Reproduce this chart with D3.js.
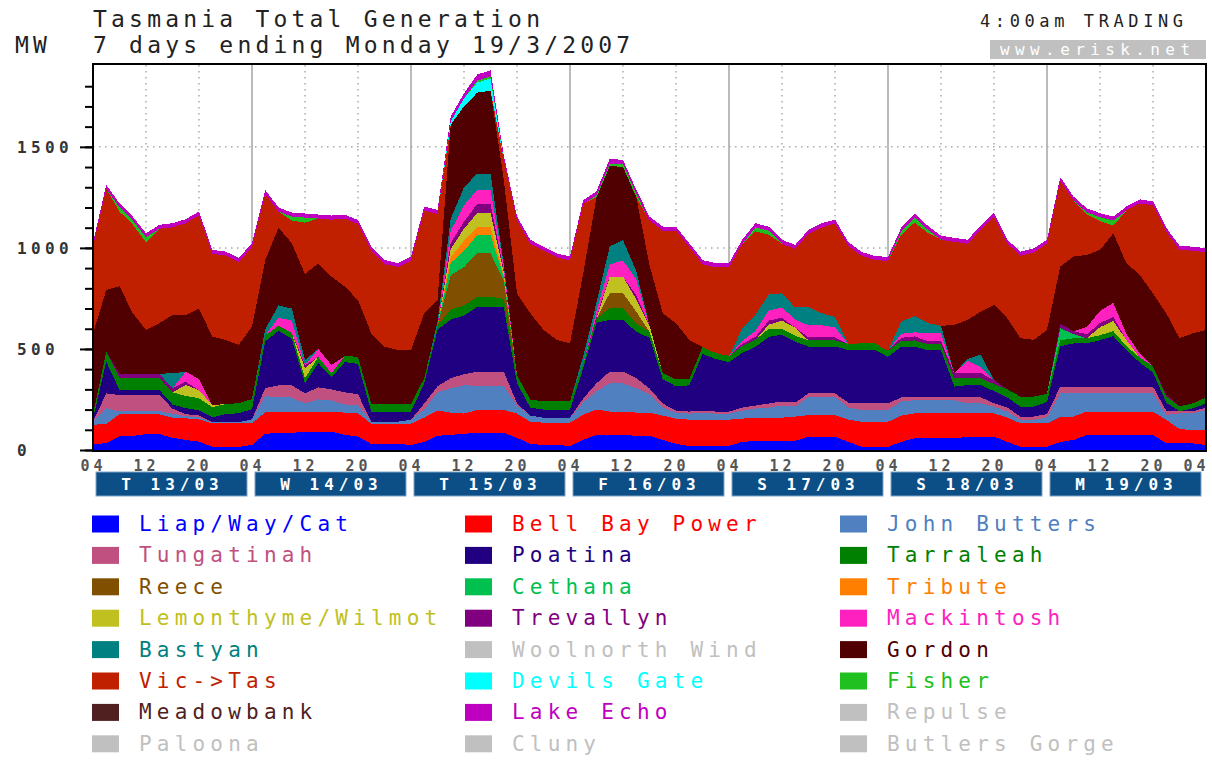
<!DOCTYPE html>
<html>
<head>
<meta charset="utf-8">
<title>Tasmania Total Generation</title>
<script src="https://cdn.jsdelivr.net/npm/d3@7"></script>
<style>
  body { margin: 0; background: #fff; }
  text { font-family: "DejaVu Sans Mono", monospace; }
</style>
</head>
<body>
<div id="chart"></div>
<script>
// half-day blocks of 2-hourly readings, 04:00 Tue 13/03 to 04:00 Tue 20/03 (85 points)
var liap = [30,33,69,69,79,79,60,50,41,16,16,16, 25,80,85,85,90,90,90,75,66,30,30,30,
  25,40,70,75,80,85,85,85,60,30,25,25, 20,50,75,75,75,70,70,50,30,20,20,20,
  20,40,45,45,45,45,66,66,66,40,16,16, 16,40,58,58,58,58,66,66,66,40,16,16,
  16,40,50,74,74,74,74,74,74,33,33,33, 25];
var bellBay = [95,96,108,108,98,98,100,107,110,116,116,116, 107,107,105,105,100,100,100,110,115,100,100,100,
  105,120,125,110,100,113,113,113,120,110,110,110, 115,125,125,115,115,115,115,120,125,130,130,130,
  130,115,115,115,115,120,107,107,107,110,124,124, 124,130,123,123,123,123,115,115,115,120,116,116,
  116,125,115,116,116,116,116,116,116,116,70,66, 75];
var johnButters = [15,77,15,15,15,15,20,10,10,5,5,5, 20,80,70,70,40,60,55,40,40,10,10,10,
  20,40,90,120,140,120,120,120,40,30,25,25, 25,60,90,140,140,120,90,40,30,30,35,30,
  30,40,45,50,60,50,91,91,91,60,58,58, 58,70,66,66,66,66,50,50,33,30,17,17,
  30,115,115,90,90,90,90,90,90,25,78,82, 100];
var tungatinah = [0,74,80,80,80,80,25,10,10,0,0,0, 0,40,60,60,50,60,55,60,55,0,0,0,
  0,30,30,50,55,70,70,70,10,0,0,0, 0,20,40,58,58,50,30,20,10,10,10,10,
  10,15,15,20,20,20,16,16,16,25,33,33, 33,20,17,17,17,17,30,30,17,20,16,16,
  16,33,33,33,33,33,33,33,33,20,10,10, 10];
var poatina = [15,157,25,25,25,25,20,30,25,25,40,45, 50,230,270,230,50,120,60,150,150,50,50,50,
  40,100,280,290,290,320,320,320,100,40,40,40, 40,150,300,256,256,230,250,120,120,130,280,260,
  245,270,290,330,330,300,232,232,232,260,264,264, 230,250,248,230,230,50,60,60,60,50,49,49,
  60,200,215,215,230,250,180,120,70,40,0,15, 20];
var tarraleah = [20,50,60,60,60,60,60,60,60,50,50,50, 50,30,25,30,25,30,20,30,35,40,40,40,
  40,25,20,50,50,50,50,40,40,40,40,40, 40,20,20,57,57,40,30,30,35,30,35,30,
  30,35,35,40,30,30,30,30,30,30,33,33, 30,30,30,30,30,40,35,35,35,40,50,50,
  40,30,25,25,25,25,20,25,30,30,25,25, 30];
var reece = [0,0,0,0,0,0,0,0,0,0,0,0, 0,0,0,0,0,0,0,0,0,0,0,0,
  0,0,0,170,190,215,215,90,0,0,0,0, 0,0,0,75,75,60,0,0,0,0,0,0,
  0,0,0,0,0,0,0,0,0,0,0,0, 0,0,0,0,0,0,0,0,0,0,0,0,
  0,0,0,0,0,0,0,0,0,0,0,0, 0];
var cethana = [0,0,0,0,0,0,0,0,0,0,0,0, 0,0,0,0,0,0,0,0,0,0,0,0,
  0,0,0,60,80,90,90,20,0,0,0,0, 0,0,0,0,0,0,0,0,0,0,0,0,
  0,0,0,0,0,0,0,0,0,0,0,0, 0,0,0,0,0,0,0,0,0,0,0,0,
  0,60,20,0,0,0,0,0,0,0,0,0, 0];
var tribute = [0,0,0,0,0,0,0,0,0,0,0,0, 0,0,0,0,0,0,0,0,0,0,0,0,
  0,0,0,30,50,40,40,10,0,0,0,0, 0,0,0,0,0,0,0,0,0,0,0,0,
  0,0,0,0,0,0,0,0,0,0,0,0, 0,0,0,0,0,0,0,0,0,0,0,0,
  0,0,0,0,0,0,0,0,0,0,0,0, 0];
var lemonthyme = [0,0,0,0,0,0,0,55,40,10,0,0, 0,0,0,0,50,0,0,0,0,0,0,0,
  0,0,0,40,60,70,70,10,0,0,0,0, 0,0,0,82,82,60,30,0,0,0,0,0,
  0,0,0,20,40,40,0,0,0,0,0,0, 0,0,0,0,0,0,0,0,0,0,0,0,
  0,0,0,0,40,50,30,0,0,0,0,0, 0];
var trevallyn = [0,0,20,20,20,20,20,15,0,0,0,0, 0,0,0,0,15,0,0,0,0,0,0,0,
  0,0,0,30,35,45,45,10,0,0,0,0, 0,0,10,0,0,20,0,0,0,0,0,0,
  0,10,15,20,15,0,15,15,15,0,0,0, 0,15,20,15,15,25,25,25,20,0,0,0,
  0,20,15,20,20,20,0,0,0,10,0,0, 0];
var mackintosh = [0,0,0,0,0,0,0,50,55,0,0,0, 0,0,40,60,0,40,40,0,0,0,0,0,
  0,0,0,60,80,70,70,20,0,0,0,0, 0,0,30,60,80,80,0,0,0,0,0,0,
  0,15,30,50,50,40,60,60,50,0,0,0, 0,20,20,40,40,0,60,30,0,0,0,0,
  0,0,0,35,60,70,30,20,0,0,0,0, 0];
var bastyan = [0,0,0,0,0,0,75,0,0,0,0,0, 0,30,60,60,25,0,0,0,0,0,0,0,
  0,0,20,60,90,80,80,10,0,0,0,0, 0,40,40,90,100,40,0,0,0,0,0,0,
  0,60,80,80,70,60,90,60,50,0,0,0, 0,60,80,50,35,0,10,60,0,0,0,0,
  0,0,0,0,0,0,0,0,0,0,0,0, 0];
var gordon = [400,305,433,300,217,250,288,281,349,339,318,288, 358,343,385,323,425,424,438,343,281,347,281,265,
  265,322,107,465,400,400,410,420,405,427,354,305, 288,410,520,398,362,367,300,297,277,195,0,0,
  0,0,0,0,0,0,0,0,0,0,0,0, 0,0,0,0,0,240,192,214,372,352,289,281,
  316,285,369,357,302,344,351,388,362,403,337,346, 334];
var vicTas = [430,500,370,438,433,467,434,454,460,409,417,410, 393,327,80,112,255,221,282,337,376,409,409,410,
  442,508,426,0,0,0,0,100,360,343,392,408, 409,342,0,0,0,0,220,408,458,458,410,424,
  439,420,412,295,245,290,362,425,463,485,432,412, 444,430,463,446,426,411,377,405,437,368,409,433,
  426,422,277,201,142,38,261,354,435,403,437,409, 384];
var devilsGate = [0,0,0,0,0,0,0,0,0,0,0,0, 0,0,0,0,0,0,0,0,0,0,0,0,
  0,0,0,15,40,50,60,0,0,0,0,0, 0,0,0,0,0,0,0,0,0,0,0,0,
  0,0,0,0,0,0,0,0,0,0,0,0, 0,0,0,0,0,0,0,0,0,0,0,0,
  0,0,0,0,0,0,0,0,0,0,0,0, 0];
var fisher = [0,0,20,20,25,0,0,0,0,0,0,0, 0,0,0,20,25,0,0,0,0,0,0,0,
  0,0,0,0,0,10,10,0,0,0,0,0, 0,0,10,10,15,15,0,0,0,0,0,0,
  0,0,20,20,0,0,0,0,0,0,0,0, 0,15,25,15,0,0,0,0,0,0,0,0,
  0,0,0,10,20,25,0,0,0,0,0,0, 0];
var lakeEcho = [20,20,20,20,20,20,20,20,20,20,20,20, 20,20,20,20,20,20,20,20,20,20,20,20,
  20,20,20,25,25,30,30,20,20,20,20,20, 20,20,20,25,20,20,20,20,20,20,20,20,
  20,20,20,20,20,20,20,20,20,20,20,20, 20,20,20,20,20,20,20,20,20,20,20,20,
  20,20,20,20,20,20,20,20,20,20,20,20, 20];

// stacking order, bottom to top
var stackNames = ["Liap/Way/Cat","Bell Bay Power","John Butters","Tungatinah","Poatina","Tarraleah",
  "Reece","Cethana","Tribute","Lemonthyme/Wilmot","Trevallyn","Mackintosh","Bastyan",
  "Gordon","Vic->Tas","Devils Gate","Fisher","Lake Echo"];
var stackValues = [liap,bellBay,johnButters,tungatinah,poatina,tarraleah,reece,cethana,tribute,
  lemonthyme,trevallyn,mackintosh,bastyan,gordon,vicTas,devilsGate,fisher,lakeEcho];

// legend, row by row
var legendNames = ["Liap/Way/Cat","Bell Bay Power","John Butters","Tungatinah","Poatina","Tarraleah",
  "Reece","Cethana","Tribute","Lemonthyme/Wilmot","Trevallyn","Mackintosh",
  "Bastyan","Woolnorth Wind","Gordon","Vic->Tas","Devils Gate","Fisher",
  "Meadowbank","Lake Echo","Repulse","Paloona","Cluny","Butlers Gorge"];
var legendColors = ["#0000ff","#ff0000","#5080c0","#c05080","#200080","#008000",
  "#805000","#00c050","#ff8000","#c0c020","#800080","#ff20c0",
  "#008080","#c0c0c0","#500000","#c02000","#00ffff","#20c020",
  "#502020","#c000c0","#c0c0c0","#c0c0c0","#c0c0c0","#c0c0c0"];

var dayLabels = ["T 13/03","W 14/03","T 15/03","F 16/03","S 17/03","S 18/03","M 19/03"];
var yLabels = [0, 500, 1000, 1500];

var width = 1212, height = 760;
var start = new Date(2007, 2, 13, 4);
var end = new Date(2007, 2, 20, 4);

var color = d3.scaleOrdinal().domain(legendNames).range(legendColors);

var x = d3.scaleTime().domain([start, end]).range([93, 1206]);
var y = d3.scaleLinear().domain([0, 1900]).range([450, 66]);

var rows = liap.map(function(v, i) {
  var r = { time: d3.timeHour.offset(start, i * 2) };
  stackNames.forEach(function(n, k) { r[n] = stackValues[k][i]; });
  return r;
});

var stack = d3.stack().keys(stackNames);
var layers = stack(rows);

var svg = d3.select('#chart').append('svg')
  .attr('width', width).attr('height', height)
  .style('background', '#fff');

// grid
var grid = svg.append('g');
var ticks8h = d3.range(1, 21).map(function(i) { return d3.timeHour.offset(start, i * 8); });
grid.selectAll('line.v').data(ticks8h).enter().append('line')
  .attr('x1', function(d) { return x(d); }).attr('x2', function(d) { return x(d); })
  .attr('y1', 65).attr('y2', 450)
  .attr('stroke', function(d) { return d.getHours() === 4 ? '#bbbbbb' : '#aaaaaa'; })
  .attr('stroke-width', function(d) { return d.getHours() === 4 ? 2 : 1.5; })
  .attr('stroke-dasharray', function(d) { return d.getHours() === 4 ? null : '1.5,4.5'; });
grid.selectAll('line.h').data([500, 1000, 1500]).enter().append('line')
  .attr('x1', 93).attr('x2', 1206)
  .attr('y1', function(d) { return y(d); }).attr('y2', function(d) { return y(d); })
  .attr('stroke', '#aaaaaa').attr('stroke-width', 1.5).attr('stroke-dasharray', '1.5,4.5');

// stacked areas
var area = d3.area()
  .x(function(d) { return x(d.data.time); })
  .y0(function(d) { return y(d[0]); })
  .y1(function(d) { return y(d[1]); });

svg.append('g').selectAll('path').data(layers).enter().append('path')
  .attr('d', area)
  .attr('fill', function(d) { return color(d.key); })
  .attr('shape-rendering', 'crispEdges');

// frame
svg.append('rect').attr('x', 93).attr('y', 64).attr('width', 1113).attr('height', 387)
  .attr('fill', 'none').attr('stroke', '#000').attr('stroke-width', 2);

// y axis ticks
var yMinor = svg.append('g').attr('transform', 'translate(93,0)')
  .call(d3.axisLeft(y).tickValues(d3.range(0, 1900, 100)).tickSize(8).tickFormat(''));
var yMajor = svg.append('g').attr('transform', 'translate(93,0)')
  .call(d3.axisLeft(y).tickValues(yLabels).tickSize(13).tickFormat(''));
[yMinor, yMajor].forEach(function(g) {
  g.select('.domain').remove();
  g.selectAll('line').attr('stroke', '#000').attr('stroke-width', 2);
});
svg.append('g').selectAll('text').data(yLabels).enter().append('text')
  .attr('x', 17).attr('y', function(d) { return y(d) + 6; })
  .attr('font-size', 16).attr('font-weight', 'bold').attr('letter-spacing', 4.4)
  .attr('fill', '#333').text(function(d) { return d; });

// x axis hour labels
var xTicks = d3.range(0, 22).map(function(i) { return d3.timeHour.offset(start, i * 8); });
var xAxis = svg.append('g').attr('transform', 'translate(0,451)')
  .call(d3.axisBottom(x).tickValues(xTicks).tickSize(0).tickFormat(d3.timeFormat('%H')));
xAxis.select('.domain').remove();
xAxis.selectAll('text')
  .attr('y', 9).attr('dy', '0.71em')
  .attr('font-family', '"DejaVu Sans Mono", monospace')
  .attr('font-size', 15).attr('font-weight', 'bold').attr('letter-spacing', 4)
  .attr('fill', '#555');
// last label sits against the right edge
xAxis.selectAll('.tick').filter(function(d) { return +d === +end; })
  .select('text').attr('x', -10);

// day boxes
var days = svg.append('g').selectAll('g').data(dayLabels).enter().append('g');
days.append('rect')
  .attr('x', function(d, i) { return x(d3.timeDay.offset(start, i)) + 3; })
  .attr('y', 472)
  .attr('width', function(d, i) { return x(d3.timeDay.offset(start, i + 1)) - x(d3.timeDay.offset(start, i)) - 8; })
  .attr('height', 24)
  .attr('fill', '#0b4f86').attr('stroke', '#7fa3c8').attr('stroke-width', 1);
days.append('text')
  .attr('x', function(d, i) { return x(d3.timeHour.offset(d3.timeDay.offset(start, i), 12)); })
  .attr('y', 490).attr('text-anchor', 'middle')
  .attr('font-size', 16).attr('font-weight', 'bold').attr('letter-spacing', 5)
  .attr('fill', '#fff').text(function(d) { return d; });

// titles
svg.append('text').attr('x', 93).attr('y', 27).attr('font-size', 23).attr('letter-spacing', 4.2)
  .attr('fill', '#222').text('Tasmania Total Generation');
svg.append('text').attr('x', 93).attr('y', 53).attr('font-size', 23).attr('letter-spacing', 4.2)
  .attr('fill', '#222').text('7 days ending Monday 19/3/2007');
svg.append('text').attr('x', 15).attr('y', 53).attr('font-size', 23).attr('letter-spacing', 4.2)
  .attr('fill', '#222').text('MW');
svg.append('text').attr('x', 980).attr('y', 27).attr('font-size', 17).attr('letter-spacing', 4.6)
  .attr('fill', '#222').text('4:00am TRADING');
svg.append('rect').attr('x', 990).attr('y', 40).attr('width', 216).attr('height', 19).attr('fill', '#c0c0c0');
svg.append('text').attr('x', 1000).attr('y', 55).attr('font-size', 16).attr('letter-spacing', 5.4)
  .attr('fill', '#fff').text('www.erisk.net');

// legend
var colX = [92, 465, 840];
var legend = svg.append('g').selectAll('g').data(legendNames).enter().append('g')
  .attr('transform', function(d, i) {
    return 'translate(' + colX[i % 3] + ',' + (524 + Math.floor(i / 3) * 31.4) + ')';
  });
legend.append('rect').attr('x', 0).attr('y', -8.5).attr('width', 27).attr('height', 17)
  .attr('fill', function(d) { return color(d); });
legend.append('text').attr('x', 47).attr('y', 7).attr('font-size', 21).attr('letter-spacing', 5.2)
  .attr('fill', function(d) { return color(d); }).text(function(d) { return d; });
</script>
</body>
</html>
